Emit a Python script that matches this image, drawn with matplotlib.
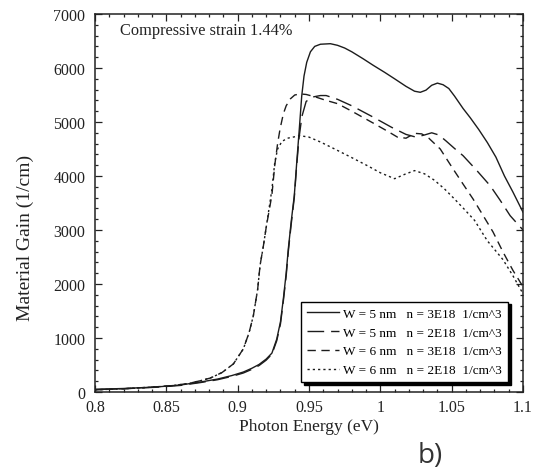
import matplotlib
matplotlib.use("Agg")
import matplotlib.pyplot as plt
from matplotlib.ticker import MultipleLocator

# ---- data ----
w5n3_x = [0.800, 0.820, 0.843, 0.860, 0.874, 0.886, 0.896, 0.904, 0.910, 0.915, 0.920,
          0.924, 0.9274, 0.930, 0.932, 0.934, 0.9355, 0.9375, 0.9397, 0.9414, 0.9432,
          0.9449, 0.9465, 0.9484, 0.951, 0.954, 0.958, 0.965, 0.970, 0.975, 0.980,
          0.988, 0.995, 1.003, 1.010, 1.018, 1.024, 1.028, 1.032, 1.036, 1.040, 1.044,
          1.048, 1.052, 1.058, 1.063, 1.069, 1.075, 1.081, 1.087, 1.093, 1.100]
w5n3_y = [50, 65, 93, 130, 185, 240, 305, 370, 440, 510, 610,
          720, 980, 1300, 1720, 2200, 2650, 3150, 3640, 4250, 4870,
          5480, 5850, 6105, 6300, 6400, 6440, 6450, 6420, 6370, 6300,
          6170, 6050, 5920, 5800, 5660, 5570, 5550, 5590, 5680, 5720, 5690,
          5620, 5480, 5250, 5080, 4860, 4620, 4350, 4000, 3700, 3330]

w5n2_x = [0.800, 0.820, 0.843, 0.860, 0.874, 0.886, 0.896, 0.904, 0.910, 0.915, 0.920,
          0.924, 0.9274, 0.930, 0.932, 0.934, 0.9355, 0.9375, 0.9397, 0.9414, 0.943,
          0.945, 0.948, 0.952, 0.958, 0.962, 0.970, 0.980, 0.995, 1.008, 1.018,
          1.025, 1.031, 1.036, 1.041, 1.046, 1.052, 1.058, 1.067, 1.077, 1.084,
          1.091, 1.100]
w5n2_y = [45, 60, 88, 122, 175, 228, 290, 352, 420, 490, 590,
          700, 950, 1260, 1680, 2150, 2600, 3100, 3600, 4200, 4700,
          5100, 5380, 5460, 5490, 5490, 5420, 5300, 5090, 4900, 4770,
          4720, 4760, 4800, 4760, 4650, 4510, 4376, 4120, 3820, 3550,
          3265, 3000]

w6n3_x = [0.800, 0.820, 0.840, 0.855, 0.866, 0.874, 0.881, 0.889, 0.897, 0.904, 0.908,
          0.911, 0.914, 0.9157, 0.918, 0.920, 0.922, 0.924, 0.926, 0.928, 0.9297,
          0.932, 0.934, 0.937, 0.940, 0.9437, 0.948, 0.955, 0.962, 0.970, 0.980,
          0.995, 1.005, 1.012, 1.018, 1.024, 1.029, 1.034, 1.042, 1.051, 1.058,
          1.065, 1.072, 1.079, 1.086, 1.093, 1.100]
w6n3_y = [40, 60, 90, 120, 160, 210, 260, 360, 520, 800, 1100,
          1413, 1900, 2345, 2700, 3050, 3350, 3650, 4200, 4600, 4870,
          5150, 5300, 5430, 5500, 5520, 5510, 5460, 5400, 5340, 5200,
          4980, 4830, 4720, 4700, 4790, 4780, 4700, 4500, 4130, 3850,
          3574, 3270, 2963, 2592, 2250, 1950]

w6n2_x = [0.800, 0.820, 0.840, 0.855, 0.866, 0.874, 0.881, 0.889, 0.897, 0.904, 0.908,
          0.911, 0.914, 0.9157, 0.918, 0.920, 0.922, 0.924, 0.926, 0.928, 0.931,
          0.935, 0.9437, 0.950, 0.958, 0.968, 0.980, 0.991, 1.000, 1.010, 1.017,
          1.024, 1.031, 1.038, 1.045, 1.052, 1.059, 1.066, 1.075, 1.086, 1.093,
          1.100]
w6n2_y = [40, 60, 90, 120, 160, 210, 260, 360, 520, 800, 1100,
          1413, 1900, 2345, 2700, 3050, 3400, 3750, 4250, 4500, 4640,
          4700, 4746, 4720, 4630, 4500, 4340, 4190, 4060, 3950, 4030,
          4100, 4040, 3920, 3760, 3574, 3380, 3180, 2800, 2450, 2150,
          1820]

labels = ["W = 5 nm   n = 3E18  1/cm^3",
          "W = 5 nm   n = 2E18  1/cm^3",
          "W = 6 nm   n = 3E18  1/cm^3",
          "W = 6 nm   n = 2E18  1/cm^3"]

x_ticks = [0.8, 0.85, 0.9, 0.95, 1.0, 1.05, 1.1]
x_ticklabels = ["0.8", "0.85", "0.9", "0.95", "1", "1.05", "1.1"]
y_ticks = [0, 1000, 2000, 3000, 4000, 5000, 6000, 7000]

# ---- figure ----
plt.rcParams['font.family'] = ['Liberation Serif', 'DejaVu Serif']
fig = plt.figure(figsize=(5.38, 4.77), dpi=100)
ax = fig.add_axes([95/538, 1 - 393/477, (523-95)/538, (393-15)/477])

lc = '#1c1c1c'
lw = 1.0
ax.plot(w5n3_x, w5n3_y, color=lc, lw=lw, ls='-', label=labels[0])
ax.plot(w5n2_x, w5n2_y, color=lc, lw=lw, ls=(0, (12, 5)), label=labels[1])
ax.plot(w6n3_x, w6n3_y, color=lc, lw=lw, ls=(0, (6, 4)), label=labels[2])
ax.plot(w6n2_x, w6n2_y, color=lc, lw=lw, ls=(0, (1.6, 2.2)), label=labels[3])

ax.set_xlim(0.8, 1.1)
ax.set_ylim(0, 7000)
ax.set_xticks(x_ticks)
ax.set_xticklabels(x_ticklabels)
ax.set_yticks(y_ticks)
ax.xaxis.set_minor_locator(MultipleLocator(0.01))
ax.yaxis.set_minor_locator(MultipleLocator(200))
ax.tick_params(which='both', direction='in', top=True, right=True,
               labelsize=11.5, colors='#222222', width=0.9)
ax.tick_params(which='major', length=5)
ax.tick_params(which='minor', length=2.5)
ax.tick_params(axis='y', pad=7)
ax.tick_params(axis='x', pad=5)
for s in ax.spines.values():
    s.set_linewidth(1.1)
    s.set_color('#222222')

ax.set_xlabel("Photon Energy (eV)", fontsize=12.5, color='#222222', labelpad=2)
ax.set_ylabel("Material Gain (1/cm)", fontsize=14, color='#222222')
ax.yaxis.set_label_coords(-0.142, 0.41)

ax.text(0.8175, 6700, "Compressive strain 1.44%", fontsize=11.8, color='#222222',
        va='center', ha='left')

leg = ax.legend(loc='lower right', bbox_to_anchor=(0.965, 0.026), borderaxespad=0,
                fontsize=9.5, fancybox=False, edgecolor='black', framealpha=1,
                handlelength=2.45, handletextpad=0.3, labelspacing=0.5,
                borderpad=0.45, shadow={'color': 'black', 'alpha': 1})
leg.get_frame().set_linewidth(1.0)

fig.text(430/538, 1 - 456/477, "b)", fontsize=20, family='Open Sans',
         color='#333333', ha='center', va='center')

fig.savefig("out.png", dpi=100)
